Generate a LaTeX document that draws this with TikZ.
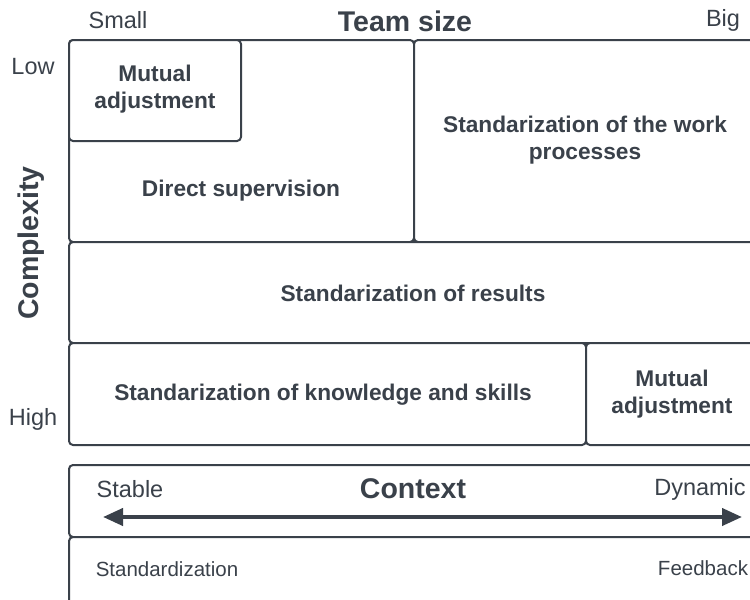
\documentclass[tikz,border=0pt]{standalone}
\usepackage{fontspec}
\setmainfont{Liberation Sans}
\usetikzlibrary{arrows.meta}
\definecolor{ink}{HTML}{3A414A}

\begin{document}
\begin{tikzpicture}[x=1pt,y=-1pt,
  cell/.style={draw=ink,line width=2pt,rounded corners=4pt,fill=white,inner sep=0pt},
  celltext/.style={text=ink,font=\fontsize{22.7}{27}\selectfont\bfseries,align=center},
  sidelabel/.style={text=ink,font=\fontsize{23.5}{28}\selectfont},
  smalllabel/.style={text=ink,font=\fontsize{20.5}{24}\selectfont},
  heading/.style={text=ink,font=\fontsize{28.5}{32}\selectfont\bfseries}]
\useasboundingbox (0,0) rectangle (750,600);
% Drawing axis labels
\node[sidelabel] (small) at (118,20) {Small};
\node[heading] (teamsize) at (405,21) {Team size};
\node[sidelabel] (big) at (723,20) {Big};
\node[sidelabel] (low) at (33,67) {Low};
\node[sidelabel] (high) at (33,419) {High};
\node[heading,rotate=90] (complexity) at (31,243) {Complexity};
% Drawing the grid of coordination mechanisms
% Row 1: direct supervision, work processes
\node[cell,minimum width=345,minimum height=202] (directbox) at (241.5,141) {};
\node[celltext] (direct) at (241,190.5) {Direct supervision};
\node[cell,minimum width=172,minimum height=101] (mutualsmall) at (155,90.5) {};
\node[celltext] (mutualA) at (155,89.5) {Mutual\\adjustment};
\node[cell,minimum width=346,minimum height=202] (workbox) at (587,141) {};
\node[celltext] (work) at (585,140.5) {Standarization of the work\\processes};
% Row 2: results
\node[cell,minimum width=691,minimum height=101] (resultsbox) at (414.5,292.5) {};
\node[celltext] (results) at (413,293.5) {Standarization of results};
% Row 3: knowledge and skills, mutual adjustment
\node[cell,minimum width=517,minimum height=102] (skillsbox) at (327.5,394) {};
\node[celltext] (skills) at (323,394.5) {Standarization of knowledge and skills};
\node[cell,minimum width=174,minimum height=102] (mutualbig) at (673,394) {};
\node[celltext] (mutualB) at (672,394.5) {Mutual\\adjustment};
% Drawing the context scale
\node[cell,minimum width=691,minimum height=72] (contextbox) at (414.5,501) {};
\node[sidelabel] (stable) at (130,489) {Stable};
\node[heading] (context) at (413,489) {Context};
\node[sidelabel] (dynamic) at (700,489) {Dynamic};
\coordinate (leftend) at (103,517);
\coordinate (rightend) at (742,517);
\draw[ink,line width=4pt,{Triangle[length=20pt,width=17pt]}-{Triangle[length=20pt,width=17pt]}] (leftend) -- (rightend);
\node[cell,minimum width=691,minimum height=80] (feedbackbox) at (414.5,577) {};
\node[smalllabel] (standard) at (167,569) {Standardization};
\node[smalllabel] (feedback) at (703,568) {Feedback};
\end{tikzpicture}
\end{document}
